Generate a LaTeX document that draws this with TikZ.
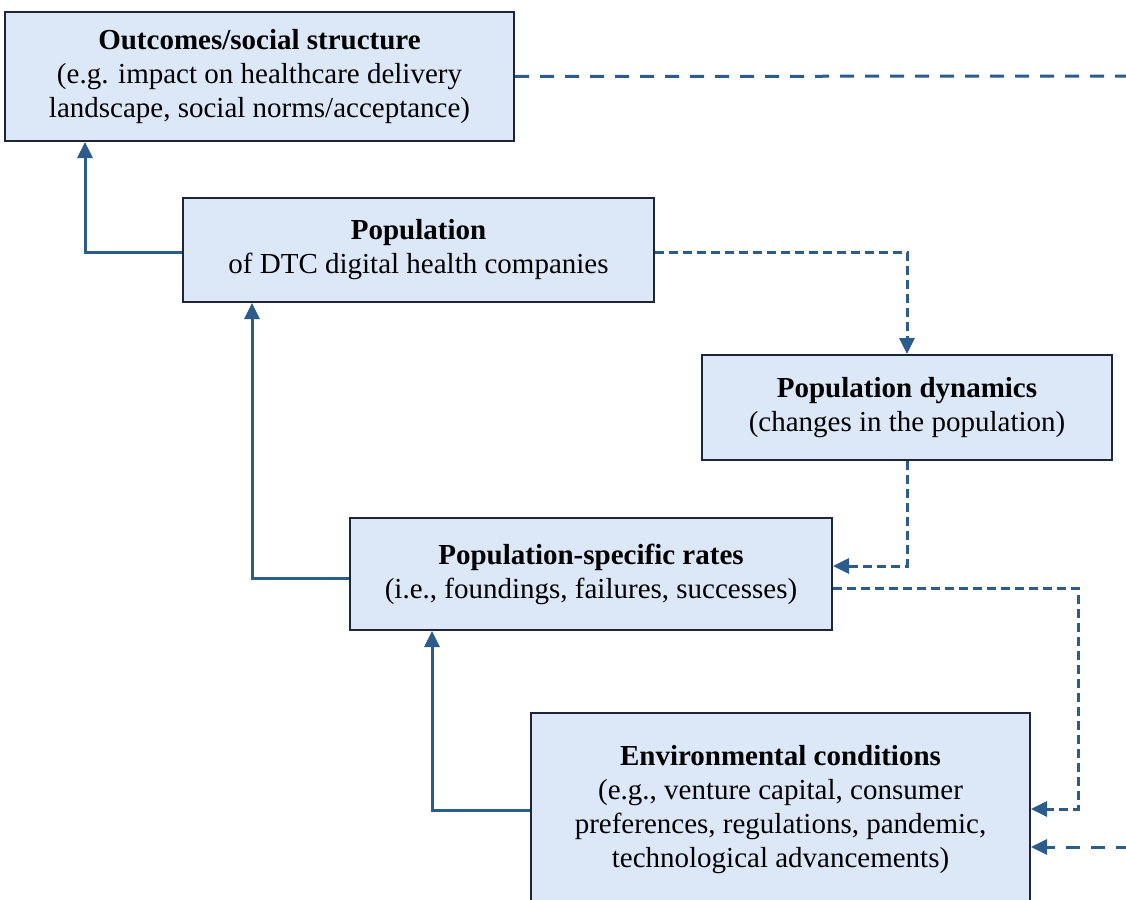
\documentclass[tikz,border=0pt]{standalone}
\usepackage{fontspec}
\setmainfont{Liberation Serif}
\usetikzlibrary{arrows.meta}
\definecolor{boxfill}{HTML}{DCE8F8}
\definecolor{boxline}{HTML}{1C2636}
\definecolor{linkcol}{HTML}{2C5C8C}
\tikzset{
  tip/.style={-{Triangle[width=15pt,length=16pt]}},
  card/.style={draw=boxline, line width=2pt, fill=boxfill, align=center,
    inner sep=0pt, font=\fontsize{29}{34}\selectfont},
  solidlink/.style={draw=linkcol, line width=3pt, tip},
  longdash/.style={draw=linkcol, line width=3pt, dash pattern=on 14pt off 11pt},
  shortdash/.style={draw=linkcol, line width=3pt, dash pattern=on 9pt off 5pt, tip},
}
\begin{document}
\begin{tikzpicture}[x=1pt,y=-1pt]
  \useasboundingbox (0,0) rectangle (1126,899);
  \clip (0,0) rectangle (1126,899);

  % boxes
  \node[card, minimum width=509pt, minimum height=129pt] (out) at (259.5,76.5)
    {\textbf{Outcomes/social structure}\\(e.g. impact on healthcare delivery\\landscape, social norms/acceptance)};
  \node[card, minimum width=471pt, minimum height=104pt] (pop) at (418.5,250)
    {\textbf{Population}\\of DTC digital health companies};
  \node[card, minimum width=410pt, minimum height=105pt] (dyn) at (907,407.5)
    {\textbf{Population dynamics}\\(changes in the population)};
  \node[card, minimum width=482pt, minimum height=112pt] (rate) at (591,574)
    {\textbf{Population-specific rates}\\(i.e., foundings, failures, successes)};
  \node[card, minimum width=499pt, minimum height=194pt] (env) at (780.5,810)
    {\textbf{Environmental conditions}\\(e.g., venture capital, consumer\\preferences, regulations, pandemic,\\technological advancements)};

  % off-page ends of the feedback loop
  \coordinate (loopout) at (1130,76);
  \coordinate (loopin) at (1130,847);
  \coordinate (bend) at (1078,809);

  % solid upward links
  \draw[solidlink] ([yshift=-2pt]pop.west) -| ([xshift=81pt]out.south west);
  \draw[solidlink] ([yshift=-4pt]rate.west) -| ([xshift=70pt]pop.south west);
  \draw[solidlink] (env.west) -| ([xshift=83pt]rate.south west);

  % dashed links
  \draw[longdash] (out.east) -- (loopout);
  \draw[shortdash] ([yshift=-2pt]pop.east) -| (dyn.north);
  \draw[shortdash] (dyn.south) |- ([yshift=8pt]rate.east);
  \draw[shortdash] ([yshift=-14pt]rate.east) -| (bend) -- (bend -| env.east);
  \draw[longdash, tip] (loopin) -- (loopin -| env.east);
\end{tikzpicture}
\end{document}
